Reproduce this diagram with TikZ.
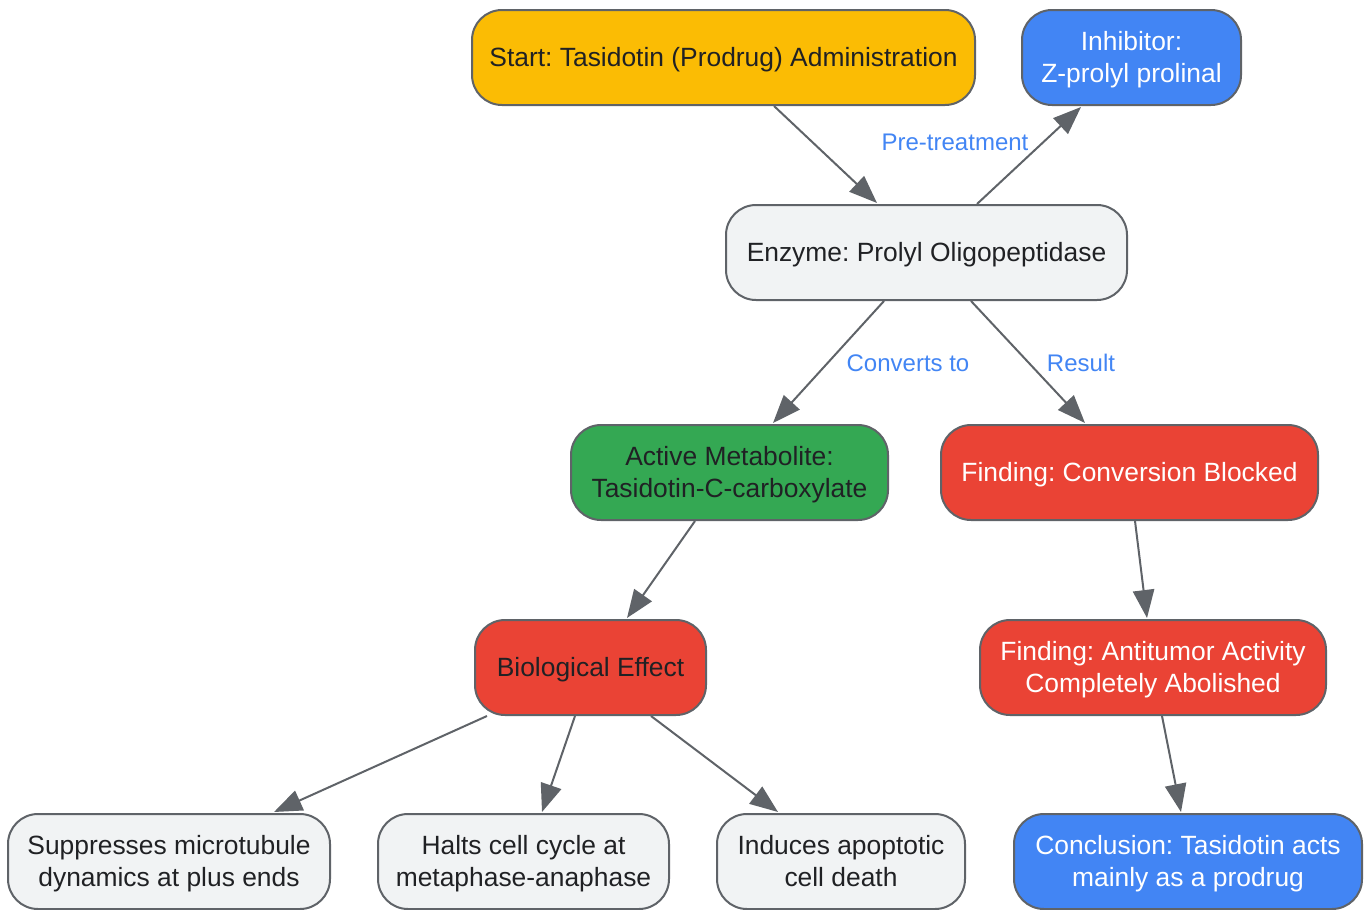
\documentclass[tikz,border=0pt]{standalone}
\usepackage{fontspec}
\setmainfont{Liberation Sans}
\frenchspacing
\usetikzlibrary{arrows.meta,calc}
\definecolor{bordergray}{HTML}{5F6368}
\definecolor{txtdark}{HTML}{202124}
\definecolor{gyellow}{HTML}{FBBC04}
\definecolor{gblue}{HTML}{4285F4}
\definecolor{ggreen}{HTML}{34A853}
\definecolor{gred}{HTML}{EA4335}
\definecolor{glight}{HTML}{F1F3F4}
\tikzset{
  box/.style={draw=bordergray, line width=1.5pt, rounded corners=22.5pt,
    minimum height=71.25pt, inner sep=0pt, align=center,
    font=\fontsize{19.8pt}{24pt}\selectfont, text=txtdark,
    text height=14.2pt, text depth=0pt},
  two/.style={text height=38.2pt, text depth=0pt},
  lightbox/.style={box, fill=glight},
  yellowbox/.style={box, fill=gyellow},
  bluebox/.style={box, fill=gblue, text=white},
  greenbox/.style={box, fill=ggreen},
  redbox/.style={box, fill=gred},
  redwhite/.style={box, fill=gred, text=white},
  conn/.style={draw=bordergray, line width=1.5pt,
    -{Triangle[length=21pt,width=16pt]}},
  lbl/.style={text=gblue, font=\fontsize{18pt}{20pt}\selectfont, inner sep=0pt}
}
\begin{document}
\begin{tikzpicture}[x=0.75pt,y=-0.75pt]
\useasboundingbox (0,0) rectangle (1367,910);
\node[yellowbox, minimum width=377.25pt] (start) at (723.5,57.5) {Start: Tasidotin (Prodrug) Administration};
\node[bluebox, two, minimum width=164.25pt] (inhib) at (1131.5,57.5) {Inhibitor:\\Z-prolyl prolinal};
\node[lightbox, minimum width=300.75pt] (enz) at (926.5,252.5) {Enzyme: Prolyl Oligopeptidase};
\node[greenbox, two, minimum width=237.75pt] (act) at (729.5,472.5) {Active Metabolite:\\Tasidotin-C-carboxylate};
\node[redwhite, minimum width=282.75pt] (blocked) at (1129.5,472.5) {Finding: Conversion Blocked};
\node[redbox, minimum width=173.25pt] (bio) at (590.5,667.5) {Biological Effect};
\node[redwhite, two, minimum width=259.5pt] (anti) at (1153,667.5) {Finding: Antitumor Activity\\Completely Abolished};
\node[lightbox, two, minimum width=241.5pt] (supp) at (169,861.5) {Suppresses microtubule\\dynamics at plus ends};
\node[lightbox, two, minimum width=218.25pt] (halts) at (523.5,861.5) {Halts cell cycle at\\metaphase-anaphase};
\node[lightbox, two, minimum width=186pt] (induce) at (841,861.5) {Induces apoptotic\\cell death};
\node[bluebox, two, minimum width=261pt] (concl) at (1188,861.5) {Conclusion: Tasidotin acts\\mainly as a prodrug};

\node[lbl] (lpre) at (955,142) {Pre-treatment};
\node[lbl] (lconv) at (908,363) {Converts to};
\node[lbl] (lres) at (1081,363) {Result};

\draw[conn] ($(start.south)+(50.5,0)$) -- ($(enz.north)+(-49.5,-1)$);
\draw[conn] ($(enz.north)+(50.5,0)$) -- ($(inhib.south)+(-50.5,1)$);
\draw[conn] ($(enz.south)+(-42.5,0)$) -- ($(act.north)+(43.5,-1)$);
\draw[conn] ($(enz.south)+(44.5,0)$) -- ($(blocked.north)+(-44.5,-1)$);
\draw[conn] ($(act.south)+(-34.5,0)$) -- ($(bio.north)+(36.5,-1)$);
\draw[conn] ($(blocked.south)+(5.5,0)$) -- ($(anti.north)+(-6,-1)$);
\draw[conn] ($(bio.south)+(-103.5,0)$) -- ($(supp.north)+(105,-1)$);
\draw[conn] ($(bio.south)+(-15.5,0)$) -- ($(halts.north)+(18.5,-1)$);
\draw[conn] ($(bio.south)+(60.5,0)$) -- ($(induce.north)+(-63,-1)$);
\draw[conn] ($(anti.south)+(9,0)$) -- ($(concl.north)+(-7,-1)$);
\end{tikzpicture}
\end{document}
